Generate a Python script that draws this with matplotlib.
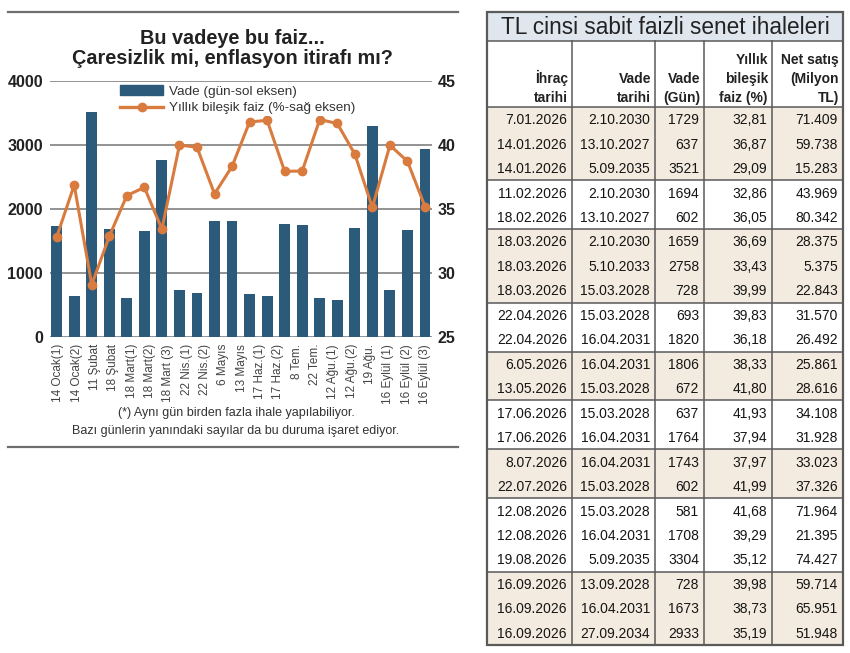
import numpy as np
import matplotlib
matplotlib.use("Agg")
import matplotlib.pyplot as plt
from matplotlib.patches import Rectangle
from matplotlib.lines import Line2D

# table / chart data
ihrac_tarihi = ["7.01.2026", "14.01.2026", "14.01.2026", "11.02.2026", "18.02.2026",
                "18.03.2026", "18.03.2026", "18.03.2026", "22.04.2026", "22.04.2026",
                "6.05.2026", "13.05.2026", "17.06.2026", "17.06.2026", "8.07.2026",
                "22.07.2026", "12.08.2026", "12.08.2026", "19.08.2026", "16.09.2026",
                "16.09.2026", "16.09.2026"]
vade_tarihi = ["2.10.2030", "13.10.2027", "5.09.2035", "2.10.2030", "13.10.2027",
               "2.10.2030", "5.10.2033", "15.03.2028", "15.03.2028", "16.04.2031",
               "16.04.2031", "15.03.2028", "15.03.2028", "16.04.2031", "16.04.2031",
               "15.03.2028", "15.03.2028", "16.04.2031", "5.09.2035", "13.09.2028",
               "16.04.2031", "27.09.2034"]
vade_gun = [1729, 637, 3521, 1694, 602, 1659, 2758, 728, 693, 1820, 1806,
            672, 637, 1764, 1743, 602, 581, 1708, 3304, 728, 1673, 2933]
faiz = [32.81, 36.87, 29.09, 32.86, 36.05, 36.69, 33.43, 39.99, 39.83, 36.18, 38.33,
        41.80, 41.93, 37.94, 37.97, 41.99, 41.68, 39.29, 35.12, 39.98, 38.73, 35.19]
net_satis = [71409, 59738, 15283, 43969, 80342, 28375, 5375, 22843, 31570, 26492, 25861,
             28616, 34108, 31928, 33023, 37326, 71964, 21395, 74427, 59714, 65951, 51948]

gun_etiketleri = ["14 Ocak(1)", "14 Ocak(2)", "11 Şubat", "18 Şubat", "18 Mart(1)",
                  "18 Mart(2)", "18 Mart (3)", "22 Nis.(1)", "22 Nis.(2)", "6 Mayıs",
                  "13 Mayıs", "17 Haz.(1)", "17 Haz.(2)", "8 Tem.", "22 Tem.",
                  "12 Ağu.(1)", "12 Ağu.(2)", "19 Ağu.", "16 Eylül (1)", "16 Eylül (2)",
                  "16 Eylül (3)"]

basliklar = ["İhraç\ntarihi", "Vade\ntarihi", "Vade\n(Gün)", "Yıllık\nbileşik\nfaiz (%)",
             "Net satış\n(Milyon\nTL)"]

W, H = 850, 653
SANS = ["Liberation Sans", "DejaVu Sans"]
BAR_C = "#2c5a7b"
LINE_C = "#d97a3e"
GRID_C = "#8a8a8a"

fig = plt.figure(figsize=(W / 100, H / 100), dpi=100)
fig.patch.set_facecolor("white")

# background axes in pixel coords for table and free text
bg = fig.add_axes([0, 0, 1, 1])
bg.set_xlim(0, W)
bg.set_ylim(H, 0)
bg.axis("off")

# left panel frame lines and titles
bg.plot([8, 458], [12, 12], color="#6e6e6e", lw=1.6)
bg.plot([8, 458], [447, 447], color="#6e6e6e", lw=1.6)
bg.text(232, 38, "Bu vadeye bu faiz...", ha="center", va="center",
        fontsize=14.3, fontweight="bold", family=SANS, color="#222222")
bg.text(232, 59, "Çaresizlik mi, enflasyon itirafı mı?", ha="center", va="center",
        fontsize=14.3, fontweight="bold", family=SANS, color="#222222")
bg.text(236, 413, "(*) Aynı gün birden fazla ihale yapılabiliyor.", ha="center",
        va="center", fontsize=9, family=SANS, color="#333333")
bg.text(236, 431, "Bazı günlerin yanındaki sayılar da bu duruma işaret ediyor.",
        ha="center", va="center", fontsize=9, family=SANS, color="#333333")

# chart
ax = fig.add_axes([50 / W, 1 - 337 / H, 382 / W, 256 / H])
ax.set_facecolor("none")
x = np.arange(len(vade_gun))
ax.bar(x, vade_gun, width=0.62, color=BAR_C, zorder=2)
ax.set_ylim(0, 4000)
ax.set_yticks([0, 1000, 2000, 3000, 4000])
ax.set_xlim(-0.38, 21.4)
ax.grid(axis="y", color=GRID_C, lw=1.3)
ax.set_axisbelow(True)
for s in ax.spines.values():
    s.set_visible(False)
ax.tick_params(axis="y", length=0, pad=5, labelsize=11.5)
for lab in ax.get_yticklabels():
    lab.set_fontweight("bold")
    lab.set_family(SANS)
    lab.set_color("#222222")
ax.set_xticks(np.linspace(0.1, 21, len(gun_etiketleri)))
ax.set_xticklabels(gun_etiketleri, rotation=90, fontsize=8.5, family=SANS, color="#444444")
ax.tick_params(axis="x", length=0, pad=5)

ax2 = ax.twinx()
ax2.plot(x, faiz, color=LINE_C, lw=2.2, marker="o", ms=6, zorder=3)
ax2.set_ylim(25, 45)
ax2.set_yticks([25, 30, 35, 40, 45])
for s in ax2.spines.values():
    s.set_visible(False)
ax2.tick_params(axis="y", length=0, pad=4, labelsize=11.5)
for lab in ax2.get_yticklabels():
    lab.set_fontweight("bold")
    lab.set_family(SANS)
    lab.set_color("#222222")

handles = [Rectangle((0, 0), 1, 1, color=BAR_C),
           Line2D([0], [0], color=LINE_C, lw=2.4, marker="o", ms=6)]
leg = fig.legend(handles, ["Vade (gün-sol eksen)", "Yıllık bileşik faiz (%-sağ eksen)"],
                 loc="upper left", bbox_to_anchor=(119 / W, 1 - 84 / H),
                 frameon=True, fancybox=False, edgecolor="none", facecolor="white",
                 framealpha=1, handlelength=3.2, handletextpad=0.4,
                 labelspacing=0.3, borderpad=0.1, borderaxespad=0,
                 prop={"family": SANS, "size": 9.7})
for t in leg.get_texts():
    t.set_color("#333333")

# table
col_edges = [487, 572, 655, 704, 772, 843]
top, title_bot, head_bot, bottom = 12, 41, 107, 645
row_h = (bottom - head_bot) / len(ihrac_tarihi)
SHADE = "#f3ebdf"
EDGE = "#5a5a5a"

bg.add_patch(Rectangle((col_edges[0], top), col_edges[-1] - col_edges[0], title_bot - top,
                       facecolor="#dfe6ee", edgecolor="none"))
bg.text((col_edges[0] + col_edges[-1]) / 2, (top + title_bot) / 2 + 1,
        "TL cinsi sabit faizli senet ihaleleri", ha="center", va="center",
        fontsize=16.3, family=SANS, color="#222222")

# month groups -> alternating shading
aylar = [d.split(".")[1] for d in ihrac_tarihi]
grup = 0
sinirlar = []
for i, ay in enumerate(aylar):
    if i > 0 and ay != aylar[i - 1]:
        grup += 1
        sinirlar.append(head_bot + i * row_h)
    y0 = head_bot + i * row_h
    if grup % 2 == 0:
        bg.add_patch(Rectangle((col_edges[0], y0), col_edges[-1] - col_edges[0], row_h,
                               facecolor=SHADE, edgecolor="none"))

for yy in sinirlar:
    bg.plot([col_edges[0], col_edges[-1]], [yy, yy], color=EDGE, lw=1.1)
bg.plot([col_edges[0], col_edges[-1]], [title_bot, title_bot], color=EDGE, lw=1.1)
bg.plot([col_edges[0], col_edges[-1]], [head_bot, head_bot], color=EDGE, lw=1.1)
for cx in col_edges[1:-1]:
    bg.plot([cx, cx], [title_bot, bottom], color=EDGE, lw=1.1)
bg.add_patch(Rectangle((col_edges[0], top), col_edges[-1] - col_edges[0], bottom - top,
                       facecolor="none", edgecolor=EDGE, lw=1.6))

for j, bas in enumerate(basliklar):
    bg.text(col_edges[j + 1] - 4, head_bot - 2, bas, ha="right", va="bottom",
            fontsize=10, fontweight="bold", family=SANS, color="#222222",
            linespacing=1.45)

for i in range(len(ihrac_tarihi)):
    yc = head_bot + (i + 0.5) * row_h + 1
    hucreler = [ihrac_tarihi[i], vade_tarihi[i], str(vade_gun[i]),
                f"{faiz[i]:.2f}".replace(".", ","),
                f"{net_satis[i]:,}".replace(",", ".")]
    for j, h in enumerate(hucreler):
        bg.text(col_edges[j + 1] - 5, yc, h, ha="right", va="center",
                fontsize=10, family=SANS, color="#151515")

fig.savefig("out.png", dpi=100, facecolor="white")
